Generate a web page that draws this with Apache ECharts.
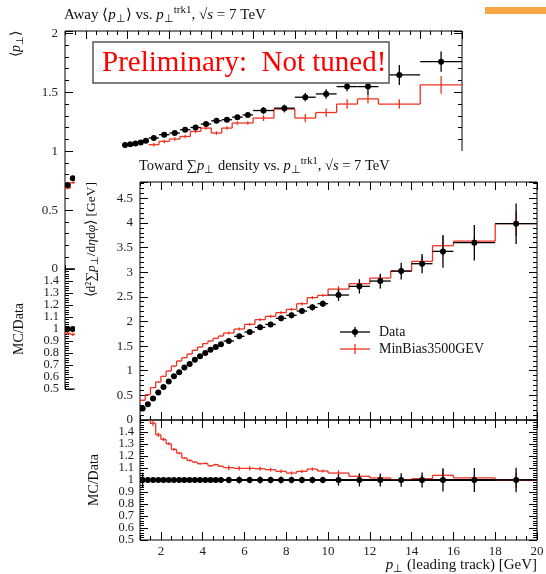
<!DOCTYPE html>
<html>

<head>
    <meta charset="utf-8" />
    <title>Away / Toward pT</title>
    <script src="https://cdn.jsdelivr.net/npm/echarts@6/dist/echarts.min.js"></script>
    <style>
        body { margin: 0; background: #fff; }
        #back { position: absolute; left: 0; top: 0; width: 546px; height: 574px; }
        #front { position: absolute; left: 75px; top: 151px; width: 471px; height: 423px; background: #fff; }
    </style>
</head>

<body>
    <div id="back"></div>
    <div id="front"></div>
    <script type="text/javascript">
        // bin edges of p_T(leading track), shared by both plots
        var binEdges = [1, 1.25, 1.5, 1.75, 2, 2.25, 2.5, 2.75, 3, 3.25, 3.5, 3.75, 4, 4.25, 4.5, 4.75,
            5, 5.5, 6, 6.5, 7, 7.5, 8, 8.5, 9, 9.5, 10, 11, 12, 13, 14, 15, 16, 18, 20];
        var xMajor = [2, 4, 6, 8, 10, 12, 14, 16, 18, 20];
        // ratio tick labels, split in two sets so neighbours never collide
        var ratioLabelsA = [0.5, 0.7, 0.9, 1.1, 1.3];
        var ratioLabelsB = [0.6, 0.8, 1.0, 1.2, 1.4];

        // Toward sum pT density (front plot)
        var towardData = [0.231, 0.318, 0.434, 0.556, 0.669, 0.779, 0.886, 0.968, 1.063, 1.136, 1.225, 1.292,
            1.359, 1.428, 1.481, 1.535, 1.602, 1.698, 1.785, 1.88, 1.94, 2.063, 2.124, 2.211, 2.286, 2.36,
            2.536, 2.712, 2.82, 3.022, 3.172, 3.422, 3.598, 3.984];
        var towardErr = [0.014, 0.006, 0.006, 0.007, 0.007, 0.008, 0.008, 0.009, 0.01, 0.01, 0.011, 0.012,
            0.012, 0.013, 0.014, 0.015, 0.045, 0.05, 0.05, 0.055, 0.055, 0.06, 0.06, 0.062, 0.064, 0.066,
            0.12, 0.145, 0.15, 0.17, 0.196, 0.33, 0.36, 0.41];
        var towardMC = [0.40, 0.512, 0.657, 0.771, 0.886, 0.994, 1.095, 1.197, 1.265, 1.339, 1.414, 1.481,
            1.55, 1.602, 1.657, 1.704, 1.765, 1.846, 1.941, 2.037, 2.104, 2.179, 2.245, 2.36, 2.483, 2.529,
            2.657, 2.766, 2.88, 3.022, 3.219, 3.537, 3.63, 3.984];
        var towardMCErr = [0.01, 0.01, 0.01, 0.01, 0.01, 0.01, 0.01, 0.01, 0.01, 0.01, 0.01, 0.01,
            0.01, 0.01, 0.01, 0.01, 0.03, 0.03, 0.03, 0.03, 0.03, 0.03, 0.03, 0.03, 0.03, 0.03,
            0.06, 0.06, 0.07, 0.08, 0.1, 0.2, 0.08, 0.25];
        var towardRatio = [1.73, 1.61, 1.473, 1.377, 1.338, 1.302, 1.255, 1.224, 1.183, 1.163, 1.149, 1.136,
            1.138, 1.118, 1.128, 1.114, 1.103, 1.097, 1.097, 1.094, 1.086, 1.072, 1.058, 1.072, 1.091, 1.075,
            1.058, 1.031, 1.017, 1.003, 1.011, 1.039, 1.017, 0.998];

        // Away <pT> (back plot), null where the front plot hides it
        var awayData = [0.714, 0.771, null, null, null, null, null, null, null, null, null, 1.052,
            1.058, 1.065, 1.074, 1.088, 1.112, 1.14, 1.154, 1.182, 1.201, 1.23, 1.258, 1.267, 1.289, 1.308,
            1.345, 1.365, 1.458, 1.486, 1.548, 1.548, 1.647, 1.76];
        var awayErr = [0.006, 0.006, null, null, null, null, null, null, null, null, null, 0.006,
            0.006, 0.006, 0.006, 0.006, 0.01, 0.01, 0.01, 0.011, 0.011, 0.012, 0.012, 0.013, 0.013, 0.014,
            0.03, 0.03, 0.035, 0.04, 0.04, 0.07, 0.085, 0.085];
        var awayMC = [0.686, 0.733, null, null, null, null, null, null, null, null, null, null,
            null, null, null, null, 1.055, 1.083, 1.103, 1.125, 1.168, 1.196, 1.154, 1.196, 1.239, 1.239,
            1.281, 1.357, 1.281, 1.328, 1.40, 1.444, 1.40, 1.563];
        var awayMCErr = [0.01, 0.01, null, null, null, null, null, null, null, null, null, null,
            null, null, null, null, 0.015, 0.015, 0.015, 0.015, 0.015, 0.015, 0.015, 0.015, 0.015, 0.015,
            0.025, 0.03, 0.035, 0.035, 0.04, 0.04, 0.04, 0.076];
        var awayRatio = [0.965, 0.955, null, null, null, null, null, null, null, null, null, null,
            null, null, null, null, null, null, null, null, null, null, null, null, null, null,
            null, null, null, null, null, null, null, null];

        var RED = '#ee3322';
        var FONT = 'Liberation Serif';

        function richStyles(size) {
            return {
                i: { fontFamily: FONT, fontSize: size, fontStyle: 'italic', fill: '#111' },
                sub: { fontFamily: FONT, fontSize: size - 4, verticalAlign: 'bottom', lineHeight: 10, fill: '#111' },
                sup: { fontFamily: FONT, fontSize: size - 4, verticalAlign: 'top', lineHeight: 10, fill: '#111' }
            };
        }

        // ---- items for the custom series ----
        function pointItems(vals, errs) {
            var out = [];
            for (var i = 0; i < vals.length; i++) {
                if (vals[i] == null) continue;
                var lo = binEdges[i], hi = binEdges[i + 1];
                out.push([(lo + hi) / 2, vals[i], lo, hi, vals[i] - errs[i], vals[i] + errs[i]]);
            }
            return out;
        }
        function ratioPointItems(vals, errs) {
            var out = [];
            for (var i = 0; i < vals.length; i++) {
                if (vals[i] == null) continue;
                var lo = binEdges[i], hi = binEdges[i + 1];
                var r = errs[i] / vals[i];
                out.push([(lo + hi) / 2, 1, lo, hi, 1 - r, 1 + r]);
            }
            return out;
        }
        function stepItems(vals, errs) {
            var out = [];
            for (var i = 0; i < vals.length; i++) {
                if (vals[i] == null) continue;
                var prev = (i > 0 && vals[i - 1] != null) ? vals[i - 1] : -1;
                out.push([binEdges[i], binEdges[i + 1], vals[i], prev, errs[i]]);
            }
            return out;
        }

        function renderPoint(params, api) {
            var p = api.coord([api.value(0), api.value(1)]);
            var l = api.coord([api.value(2), api.value(1)]);
            var r = api.coord([api.value(3), api.value(1)]);
            var lo = api.coord([api.value(0), api.value(4)]);
            var hi = api.coord([api.value(0), api.value(5)]);
            var st = { stroke: '#000', lineWidth: 1.3 };
            return {
                type: 'group', children: [
                    { type: 'line', shape: { x1: l[0], y1: p[1], x2: r[0], y2: p[1] }, style: st },
                    { type: 'line', shape: { x1: p[0], y1: lo[1], x2: p[0], y2: hi[1] }, style: st },
                    { type: 'circle', shape: { cx: p[0], cy: p[1], r: 3 }, style: { fill: '#000' } }
                ]
            };
        }
        function renderStep(params, api) {
            var lo = api.value(0), hi = api.value(1), v = api.value(2), prev = api.value(3), e = api.value(4);
            var a = api.coord([lo, v]), b = api.coord([hi, v]);
            var m = (lo + hi) / 2;
            var eLo = api.coord([m, v - e]), eHi = api.coord([m, v + e]);
            var st = { stroke: RED, lineWidth: 1.3 };
            var kids = [
                { type: 'line', shape: { x1: a[0], y1: a[1], x2: b[0], y2: b[1] }, style: st },
                { type: 'line', shape: { x1: eLo[0], y1: eLo[1], x2: eLo[0], y2: eHi[1] }, style: st }
            ];
            if (prev >= 0) {
                var c = api.coord([lo, prev]);
                kids.push({ type: 'line', shape: { x1: a[0], y1: c[1], x2: a[0], y2: a[1] }, style: st });
            }
            return { type: 'group', children: kids };
        }

        // ---- axes: ticks inside on all four sides ----
        var tickLine = { color: '#000', width: 1 };
        var labelStyle = { fontFamily: FONT, fontSize: 13, color: '#222' };

        function xAxesFor(gi, showLabels) {
            var out = [];
            ['bottom', 'top'].forEach(function (pos) {
                out.push({
                    gridIndex: gi, type: 'value', position: pos, min: 1, max: 20, interval: 0.5,
                    axisLine: { show: false, onZero: false }, splitLine: { show: false },
                    axisLabel: { show: false },
                    axisTick: { show: true, inside: true, length: 4, lineStyle: tickLine }
                });
                out.push({
                    gridIndex: gi, type: 'value', position: pos, min: 1, max: 20,
                    axisLine: { show: false, onZero: false }, splitLine: { show: false },
                    axisLabel: Object.assign({ show: showLabels && pos === 'bottom', customValues: xMajor, margin: 5 }, labelStyle),
                    axisTick: { show: true, inside: true, length: 8, customValues: xMajor, lineStyle: tickLine }
                });
            });
            return out;
        }
        function yAxesFor(gi, min, max, major, minor, fmt, labelSets) {
            var out = [];
            ['left', 'right'].forEach(function (pos) {
                out.push({
                    gridIndex: gi, type: 'value', position: pos, min: min, max: max, interval: major,
                    axisLine: { show: false, onZero: false }, splitLine: { show: false },
                    axisLabel: Object.assign({}, labelStyle, { show: pos === 'left' && !labelSets, formatter: fmt, margin: 7, showMinLabel: true, showMaxLabel: true }),
                    axisTick: { show: true, inside: true, length: 8, lineStyle: tickLine }
                });
                out.push({
                    gridIndex: gi, type: 'value', position: pos, min: min, max: max, interval: minor,
                    axisLine: { show: false, onZero: false }, splitLine: { show: false },
                    axisLabel: { show: false },
                    axisTick: { show: true, inside: true, length: 4, lineStyle: tickLine }
                });
            });
            (labelSets || []).forEach(function (vals) {
                out.push({
                    gridIndex: gi, type: 'value', position: 'left', min: min, max: max,
                    axisLine: { show: false, onZero: false }, splitLine: { show: false }, axisTick: { show: false },
                    axisLabel: Object.assign({}, labelStyle, { customValues: vals, formatter: fmt, margin: 6, fontSize: 12.5, showMinLabel: true, showMaxLabel: true })
                });
            });
            return out;
        }
        function mainFmt(v) {
            return Math.abs(v * 2 - Math.round(v * 2)) < 1e-6 ? String(+v.toFixed(1)) : '';
        }
        function ratioFmt(v) {
            return v > 1.49 ? '' : String(+v.toFixed(1));
        }

        function plotOption(p) {
            var frame = { show: true, borderColor: '#000', borderWidth: 1, backgroundColor: 'transparent', outerBoundsMode: 'none' };
            var g = [
                { type: 'text', x: 64, y: 15, style: { text: p.title, rich: richStyles(p.titleSize), fontFamily: FONT, fontSize: p.titleSize, fill: '#111', lineHeight: 20, align: 'left', verticalAlign: 'middle' } },
                { type: 'text', x: 16, y: 31, rotation: Math.PI / 2, style: { text: p.yName, rich: richStyles(p.yNameSize), fontFamily: FONT, fontSize: p.yNameSize, fill: '#111', lineHeight: 18, align: 'right', verticalAlign: 'middle' } },
                { type: 'text', x: 19, y: 329, rotation: Math.PI / 2, style: { text: 'MC/Data', fontFamily: FONT, fontSize: 14, fill: '#111', align: 'center', verticalAlign: 'middle' } },
                { type: 'text', x: 462, y: 414, style: { text: '{i|p}{sub|⊥} (leading track) [GeV]', rich: richStyles(15), fontFamily: FONT, fontSize: 15, fill: '#111', lineHeight: 20, align: 'right', verticalAlign: 'middle' } }
            ].concat(p.extra || []);
            return {
                animation: false,
                backgroundColor: p.bg,
                grid: [
                    Object.assign({ left: 65, top: 31, width: 397, height: 238 }, frame),
                    Object.assign({ left: 65, top: 269, width: 397, height: 120 }, frame)
                ],
                xAxis: xAxesFor(0, false).concat(xAxesFor(1, true)),
                yAxis: yAxesFor(0, 0, p.yMax, 0.5, 0.1, mainFmt, null)
                    .concat(yAxesFor(1, 0.5, 1.5, 0.1, 0.02, ratioFmt, [ratioLabelsA, ratioLabelsB])),
                graphic: { elements: g },
                series: [
                    { type: 'custom', xAxisIndex: 0, yAxisIndex: 0, clip: true, renderItem: renderStep, data: stepItems(p.mc, p.mcErr), z: 2 },
                    { type: 'custom', xAxisIndex: 0, yAxisIndex: 0, clip: true, renderItem: renderPoint, data: pointItems(p.data, p.err), z: 3 },
                    { type: 'line', xAxisIndex: 4, yAxisIndex: 4, data: [[binEdges[0], 1], [binEdges[binEdges.length - 1], 1]], showSymbol: false, lineStyle: { color: '#000', width: 2 }, z: 2 },
                    { type: 'custom', xAxisIndex: 4, yAxisIndex: 4, clip: true, renderItem: renderStep, data: stepItems(p.ratio, p.ratioErr), z: 3 },
                    { type: 'custom', xAxisIndex: 4, yAxisIndex: 4, clip: true, renderItem: renderPoint, data: ratioPointItems(p.data, p.err), z: 4 }
                ]
            };
        }

        function divide(a, b) {
            return a.map(function (v, i) { return (v == null || b[i] == null) ? null : v / b[i]; });
        }

        // ---- back plot: Away <pT> ----
        var backChart = echarts.init(document.getElementById('back'));
        backChart.setOption(plotOption({
            bg: '#fff',
            title: 'Away ⟨{i|p}{sub|⊥}⟩ vs. {i|p}{sub|⊥}{sup|trk1}, √{i|s} = 7 TeV',
            titleSize: 15,
            yName: '⟨{i|p}{sub|⊥}⟩',
            yNameSize: 14,
            yMax: 2.02,
            data: awayData, err: awayErr, mc: awayMC, mcErr: awayMCErr,
            ratio: awayRatio, ratioErr: divide(awayMCErr, awayData),
            extra: [
                { type: 'rect', z: 100, shape: { x: 93, y: 42, width: 296, height: 41 }, style: { fill: '#fff', stroke: '#555', lineWidth: 1.5 } },
                { type: 'text', z: 101, x: 102, y: 63, style: { text: 'Preliminary:  Not tuned!', fontFamily: FONT, fontSize: 29, fill: '#ff0000', align: 'left', verticalAlign: 'middle' } },
                { type: 'rect', z: 100, shape: { x: 485, y: 7, width: 61, height: 7 }, style: { fill: '#f8a643' } }
            ]
        }));

        // ---- front plot: Toward sum pT density ----
        var frontChart = echarts.init(document.getElementById('front'));
        frontChart.setOption(plotOption({
            bg: '#fff',
            title: 'Toward ∑{i|p}{sub|⊥} density vs. {i|p}{sub|⊥}{sup|trk1}, √{i|s} = 7 TeV',
            titleSize: 14.5,
            yName: '⟨d²∑{i|p}{sub|⊥}/d{i|η}d{i|φ}⟩ [GeV]',
            yNameSize: 13.5,
            yMax: 4.83,
            data: towardData, err: towardErr, mc: towardMC, mcErr: towardMCErr,
            ratio: towardRatio, ratioErr: divide(towardMCErr, towardData),
            extra: [
                { type: 'line', shape: { x1: 265, y1: 181, x2: 295, y2: 181 }, style: { stroke: '#000', lineWidth: 1.3 } },
                { type: 'line', shape: { x1: 280, y1: 176, x2: 280, y2: 186 }, style: { stroke: '#000', lineWidth: 1.3 } },
                { type: 'circle', shape: { cx: 280, cy: 181, r: 3 }, style: { fill: '#000' } },
                { type: 'text', x: 304, y: 181, style: { text: 'Data', fontFamily: FONT, fontSize: 14, fill: '#111', align: 'left', verticalAlign: 'middle' } },
                { type: 'line', shape: { x1: 265, y1: 198, x2: 295, y2: 198 }, style: { stroke: RED, lineWidth: 1.3 } },
                { type: 'line', shape: { x1: 280, y1: 193, x2: 280, y2: 203 }, style: { stroke: RED, lineWidth: 1.3 } },
                { type: 'text', x: 304, y: 198, style: { text: 'MinBias3500GEV', fontFamily: FONT, fontSize: 14, fill: '#111', align: 'left', verticalAlign: 'middle' } }
            ]
        }));
    </script>
</body>

</html>
